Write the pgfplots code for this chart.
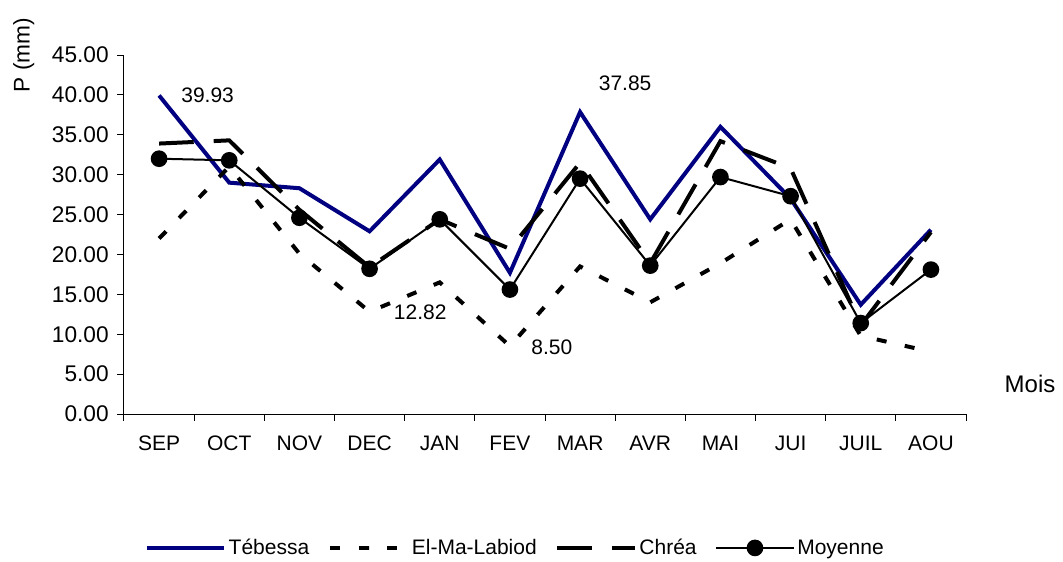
\documentclass[border=0pt]{standalone}
\usepackage{pgfplots}
\pgfplotsset{compat=1.18}
\usepackage{fontspec}
\setmainfont{Liberation Sans}
\definecolor{navyblue}{RGB}{0,0,128}
\begin{document}
\begin{tikzpicture}
\useasboundingbox (-93pt,-110.25pt) rectangle (704.25pt,310.5pt);
\begin{axis}[
 at={(0,0)}, anchor=south west,
 scale only axis, width=631.5pt, height=269.25pt,
 xmin=-0.5, xmax=11.5, ymin=0, ymax=45,
 axis lines*=left, axis line style={-, line width=0.75pt},
 ytick={0,5,...,45},
 yticklabel style={/pgf/number format/fixed, /pgf/number format/precision=2, /pgf/number format/fixed zerofill, font=\fontsize{17}{19}\selectfont, xshift=-3pt},
 /pgf/number format/assume math mode=true,
 xtick={0,...,11},
 xticklabels={SEP,OCT,NOV,DEC,JAN,FEV,MAR,AVR,MAI,JUI,JUIL,AOU},
 xticklabel style={font=\fontsize{15.75}{18}\selectfont, yshift=-8pt},
 minor xtick={-0.5,0.5,...,11.5},
 major x tick style={draw=none},
 tick align=outside,
 major tick length=5pt, minor tick length=5pt,
 tick style={black, line width=0.75pt},
 clip=false,
 legend columns=4,
 legend style={at={(0.465,-0.373)}, anchor=center, draw=none,
   font=\fontsize{15.75}{18}\selectfont,
   /tikz/every even column/.append style={column sep=12pt}},
 legend image code/.code={\draw[mark repeat=2,mark phase=2,#1] plot coordinates {(0pt,0pt) (29pt,0pt) (58pt,0pt)};},
]
\addplot[navyblue, line width=3pt, mark=none] coordinates {
 (0,39.93) (1,29.0) (2,28.3) (3,22.9) (4,31.9) (5,17.7) (6,37.85) (7,24.4) (8,36.0) (9,27.0) (10,13.7) (11,23.1)};
\addlegendentry{Tébessa}
\addplot[black, line width=3pt, dash pattern=on 7.5pt off 14pt, mark=none] coordinates {
 (0,22.0) (1,31.0) (2,20.1) (3,12.82) (4,16.5) (5,8.50) (6,18.5) (7,14.0) (8,18.9) (9,24.4) (10,9.8) (11,7.8)};
\addlegendentry{El-Ma-Labiod}
\addplot[black, line width=3pt, dash pattern=on 26pt off 15pt, mark=none] coordinates {
 (0,33.9) (1,34.3) (2,25.6) (3,18.4) (4,24.4) (5,20.7) (6,31.5) (7,18.9) (8,34.2) (9,30.8) (10,11.1) (11,22.8)};
\addlegendentry{Chréa}
\addplot[black, line width=1.5pt, mark=*, mark size=5.5pt, mark options={solid, fill=black}] coordinates {
 (0,32.0) (1,31.8) (2,24.6) (3,18.2) (4,24.4) (5,15.6) (6,29.5) (7,18.6) (8,29.7) (9,27.3) (10,11.4) (11,18.1)};
\addlegendentry{Moyenne}
\node[anchor=west, font=\fontsize{15.75}{18}\selectfont] at (axis cs:0.25,39.93) {39.93};
\node[anchor=west, font=\fontsize{15.75}{18}\selectfont] at (axis cs:6.2,41.4) {37.85};
\node[anchor=west, font=\fontsize{15.75}{18}\selectfont] at (axis cs:3.28,12.8) {12.82};
\node[anchor=west, font=\fontsize{15.75}{18}\selectfont] at (axis cs:5.24,8.4) {8.50};
\node[font=\fontsize{18}{20}\selectfont] at (rel axis cs:1.076,0.0836) {Mois};
\node[rotate=90, font=\fontsize{17}{19}\selectfont] at (rel axis cs:-0.119,1.0) {P (mm)};
\end{axis}
\end{tikzpicture}
\end{document}
